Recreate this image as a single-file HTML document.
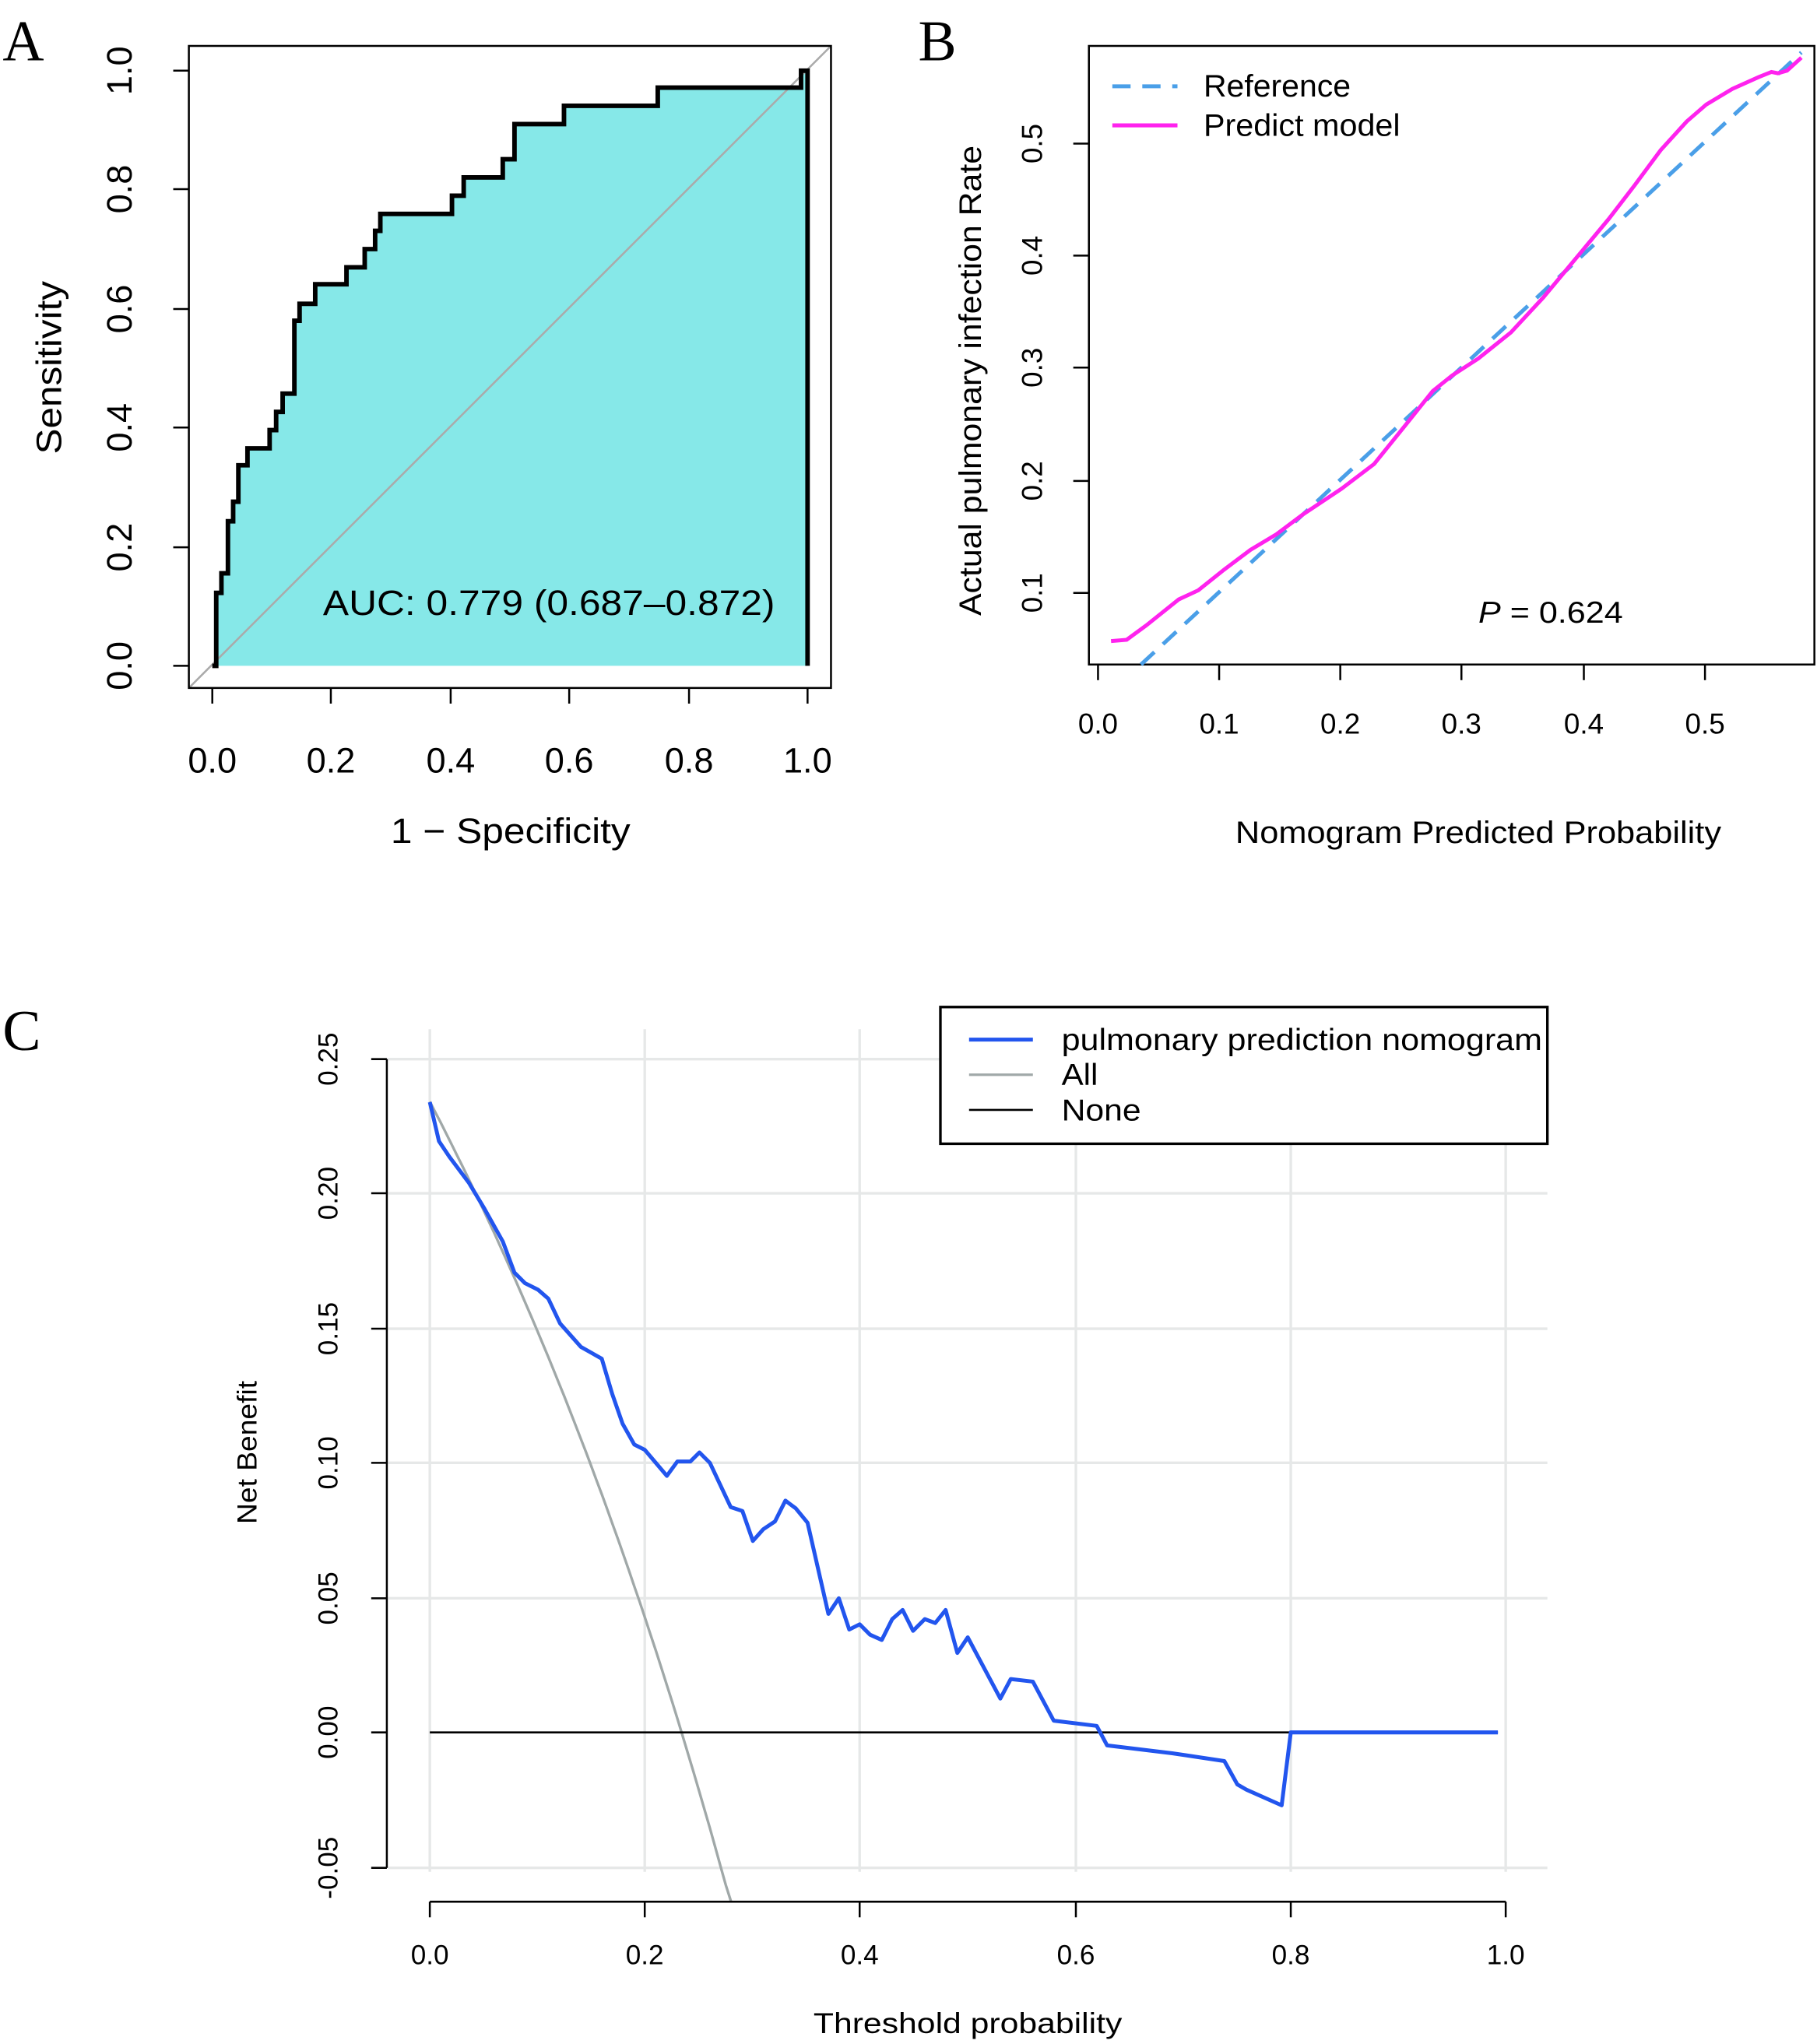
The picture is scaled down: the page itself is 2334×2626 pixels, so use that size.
<!DOCTYPE html>
<html><head><meta charset="utf-8"><style>
html,body{margin:0;padding:0;background:#fff;}
svg{display:block;font-family:"Liberation Sans",sans-serif;}
</style></head><body>
<svg width="2334" height="2626" viewBox="0 0 1395 1569" xmlns="http://www.w3.org/2000/svg">
<rect width="1395" height="1569" fill="#fff"/>
<!-- Panel A -->
<text x="2" y="46" font-family="Liberation Serif,serif" font-size="44">A</text>
<path d="M163,511 L166,511 L166,455 L170,455 L170,440 L175,440 L175,400 L179,400 L179,385 L183,385 L183,357 L190,357 L190,344 L207,344 L207,330 L212,330 L212,316 L217,316 L217,302 L226,302 L226,246 L230,246 L230,233 L242,233 L242,218 L266,218 L266,205 L280,205 L280,191 L288,191 L288,177 L292,177 L292,164 L347,164 L347,150 L356,150 L356,136 L386,136 L386,122 L395,122 L395,95 L433,95 L433,81 L505,81 L505,67 L615,67 L615,54 L620,54 L620,511 Z" fill="#86E8E8" stroke="none"/>
<line x1="145" y1="528" x2="638" y2="35" stroke="#aaa" stroke-width="1.5"/>
<path d="M163,511 L166,511 L166,455 L170,455 L170,440 L175,440 L175,400 L179,400 L179,385 L183,385 L183,357 L190,357 L190,344 L207,344 L207,330 L212,330 L212,316 L217,316 L217,302 L226,302 L226,246 L230,246 L230,233 L242,233 L242,218 L266,218 L266,205 L280,205 L280,191 L288,191 L288,177 L292,177 L292,164 L347,164 L347,150 L356,150 L356,136 L386,136 L386,122 L395,122 L395,95 L433,95 L433,81 L505,81 L505,67 L615,67 L615,54 L620,54 L620,511" fill="none" stroke="#000" stroke-width="3.5"/>
<rect x="145" y="35" width="493" height="493" fill="none" stroke="#000" stroke-width="1.5"/>
<g stroke="#000" stroke-width="1.5">
<line x1="163" y1="528" x2="163" y2="540"/><line x1="254" y1="528" x2="254" y2="540"/><line x1="346" y1="528" x2="346" y2="540"/><line x1="437" y1="528" x2="437" y2="540"/><line x1="529" y1="528" x2="529" y2="540"/><line x1="620" y1="528" x2="620" y2="540"/>
<line x1="145" y1="511" x2="133" y2="511"/><line x1="145" y1="420" x2="133" y2="420"/><line x1="145" y1="328" x2="133" y2="328"/><line x1="145" y1="237" x2="133" y2="237"/><line x1="145" y1="145" x2="133" y2="145"/><line x1="145" y1="54" x2="133" y2="54"/>
</g>
<g font-size="27" text-anchor="middle">
<text x="163" y="593">0.0</text><text x="254" y="593">0.2</text><text x="346" y="593">0.4</text><text x="437" y="593">0.6</text><text x="529" y="593">0.8</text><text x="620" y="593">1.0</text>
<text transform="translate(101,511) rotate(-90)">0.0</text><text transform="translate(101,420) rotate(-90)">0.2</text><text transform="translate(101,328) rotate(-90)">0.4</text><text transform="translate(101,237) rotate(-90)">0.6</text><text transform="translate(101,145) rotate(-90)">0.8</text><text transform="translate(101,54) rotate(-90)">1.0</text>
<text x="392" y="647" textLength="184" lengthAdjust="spacingAndGlyphs">1 − Specificity</text>
<text transform="translate(47,282) rotate(-90)" textLength="133" lengthAdjust="spacingAndGlyphs">Sensitivity</text>
</g>
<text x="248" y="472" font-size="27" textLength="347" lengthAdjust="spacingAndGlyphs">AUC: 0.779 (0.687–0.872)</text>
<!-- Panel B -->
<text x="705" y="46" font-family="Liberation Serif,serif" font-size="44">B</text>
<rect x="836" y="35" width="557" height="475" fill="none" stroke="#000" stroke-width="1.5"/>
<line x1="876" y1="510" x2="1383" y2="40" stroke="#4A9FE8" stroke-width="3" stroke-dasharray="14,9"/>
<polyline fill="none" stroke="#FF22EE" stroke-width="3" points="853,492 865,491 880,480 905,460 920,453 940,437 960,422 980,410 1000,395 1030,375 1055,356 1080,325 1100,300 1115,288 1135,275 1160,255 1185,228 1210,198 1235,168 1255,142 1275,115 1295,93 1310,80 1330,68 1350,59 1360,55 1365,56 1372,54 1383,44"/>
<g stroke="#000" stroke-width="1.5">
<line x1="843" y1="510" x2="843" y2="522"/><line x1="936" y1="510" x2="936" y2="522"/><line x1="1029" y1="510" x2="1029" y2="522"/><line x1="1122" y1="510" x2="1122" y2="522"/><line x1="1216" y1="510" x2="1216" y2="522"/><line x1="1309" y1="510" x2="1309" y2="522"/>
<line x1="836" y1="455" x2="824" y2="455"/><line x1="836" y1="369" x2="824" y2="369"/><line x1="836" y1="282" x2="824" y2="282"/><line x1="836" y1="196" x2="824" y2="196"/><line x1="836" y1="110" x2="824" y2="110"/>
</g>
<g font-size="22" text-anchor="middle">
<text x="843" y="563">0.0</text><text x="936" y="563">0.1</text><text x="1029" y="563">0.2</text><text x="1122" y="563">0.3</text><text x="1216" y="563">0.4</text><text x="1309" y="563">0.5</text>
<text transform="translate(800,455) rotate(-90)">0.1</text><text transform="translate(800,369) rotate(-90)">0.2</text><text transform="translate(800,282) rotate(-90)">0.3</text><text transform="translate(800,196) rotate(-90)">0.4</text><text transform="translate(800,110) rotate(-90)">0.5</text>
<text x="1135" y="647" font-size="24" textLength="373" lengthAdjust="spacingAndGlyphs">Nomogram Predicted Probability</text>
<text transform="translate(753,292) rotate(-90)" font-size="24" textLength="361" lengthAdjust="spacingAndGlyphs">Actual pulmonary infection Rate</text>
</g>
<text x="1135" y="478" font-size="23" textLength="111" lengthAdjust="spacingAndGlyphs"><tspan font-style="italic">P</tspan>  =  0.624</text>
<line x1="854" y1="66" x2="904" y2="66" stroke="#4A9FE8" stroke-width="3" stroke-dasharray="14,9"/>
<line x1="854" y1="96" x2="904" y2="96" stroke="#FF22EE" stroke-width="3"/>
<text x="924" y="74" font-size="24" textLength="113" lengthAdjust="spacingAndGlyphs">Reference</text>
<text x="924" y="104" font-size="24" textLength="151" lengthAdjust="spacingAndGlyphs">Predict model</text>
<!-- Panel C -->
<text x="2" y="806" font-family="Liberation Serif,serif" font-size="44">C</text>
<g stroke="#E6E8E8" stroke-width="2">
<line x1="330" y1="790" x2="330" y2="1437"/><line x1="495" y1="790" x2="495" y2="1437"/><line x1="660" y1="790" x2="660" y2="1437"/><line x1="826" y1="790" x2="826" y2="1437"/><line x1="991" y1="790" x2="991" y2="1437"/><line x1="1156" y1="790" x2="1156" y2="1437"/>
<line x1="298" y1="813" x2="1188" y2="813"/><line x1="298" y1="916" x2="1188" y2="916"/><line x1="298" y1="1020" x2="1188" y2="1020"/><line x1="298" y1="1123" x2="1188" y2="1123"/><line x1="298" y1="1227" x2="1188" y2="1227"/><line x1="298" y1="1434" x2="1188" y2="1434"/>
</g>
<path id="allc" fill="none" stroke="#A0A8A8" stroke-width="2"/>
<line x1="330" y1="1330" x2="1150" y2="1330" stroke="#000" stroke-width="1.5"/>
<polyline fill="none" stroke="#2255EE" stroke-width="3" stroke-linejoin="round" points="330,846 337,876 345,888 360,908 372,928 386,953 395,977 403,985 413,990 421,997 430,1016 446,1034 462,1043 470,1070 478,1093 487,1109 495,1113 512,1133 520,1122 530,1122 537,1115 545,1123 561,1157 570,1160 578,1183 586,1174 595,1168 603,1152 611,1158 620,1169 636,1239 644,1227 652,1251 660,1247 668,1255 677,1259 685,1243 693,1236 701,1252 710,1243 718,1246 726,1236 735,1269 743,1257 768,1304 776,1289 793,1291 809,1321 842,1325 850,1340 900,1346 940,1352 950,1370 957,1374 984,1386 991,1330 1150,1330"/>
<g stroke="#000" stroke-width="1.5">
<line x1="297" y1="813" x2="297" y2="1434"/>
<line x1="297" y1="813" x2="285" y2="813"/><line x1="297" y1="916" x2="285" y2="916"/><line x1="297" y1="1020" x2="285" y2="1020"/><line x1="297" y1="1123" x2="285" y2="1123"/><line x1="297" y1="1227" x2="285" y2="1227"/><line x1="297" y1="1330" x2="285" y2="1330"/><line x1="297" y1="1434" x2="285" y2="1434"/>
<line x1="330" y1="1460" x2="1156" y2="1460"/>
<line x1="330" y1="1460" x2="330" y2="1472"/><line x1="495" y1="1460" x2="495" y2="1472"/><line x1="660" y1="1460" x2="660" y2="1472"/><line x1="826" y1="1460" x2="826" y2="1472"/><line x1="991" y1="1460" x2="991" y2="1472"/><line x1="1156" y1="1460" x2="1156" y2="1472"/>
</g>
<g font-size="21" text-anchor="middle">
<text x="330" y="1508">0.0</text><text x="495" y="1508">0.2</text><text x="660" y="1508">0.4</text><text x="826" y="1508">0.6</text><text x="991" y="1508">0.8</text><text x="1156" y="1508">1.0</text>
<text transform="translate(259,813) rotate(-90)">0.25</text><text transform="translate(259,916) rotate(-90)">0.20</text><text transform="translate(259,1020) rotate(-90)">0.15</text><text transform="translate(259,1123) rotate(-90)">0.10</text><text transform="translate(259,1227) rotate(-90)">0.05</text><text transform="translate(259,1330) rotate(-90)">0.00</text><text transform="translate(259,1434) rotate(-90)">-0.05</text>
<text x="743" y="1561" font-size="22" textLength="237" lengthAdjust="spacingAndGlyphs">Threshold probability</text>
<text transform="translate(197,1115) rotate(-90)" font-size="21" textLength="110" lengthAdjust="spacingAndGlyphs">Net Benefit</text>
</g>
<rect x="722" y="773" width="466" height="105" fill="#fff" stroke="#000" stroke-width="2"/>
<line x1="744" y1="798" x2="793" y2="798" stroke="#2255EE" stroke-width="3"/>
<line x1="744" y1="825" x2="793" y2="825" stroke="#A0A8A8" stroke-width="2"/>
<line x1="744" y1="852" x2="793" y2="852" stroke="#000" stroke-width="1.5"/>
<g font-size="23"><text x="815" y="806" textLength="369" lengthAdjust="spacingAndGlyphs">pulmonary prediction nomogram</text><text x="815" y="833" textLength="28" lengthAdjust="spacingAndGlyphs">All</text><text x="815" y="860" textLength="61" lengthAdjust="spacingAndGlyphs">None</text></g>
<script>
(function(){var p=0.234,d="";for(var t=0;t<=0.2805;t+=0.005){var nb=p-(1-p)*t/(1-t);var x=330+t*826,y=1330-nb*2070;if(y>1460){y=1460;}d+=(d?" L":"M")+x.toFixed(1)+","+y.toFixed(1);}document.getElementById("allc").setAttribute("d",d);})();
</script>
</svg>
</body></html>
